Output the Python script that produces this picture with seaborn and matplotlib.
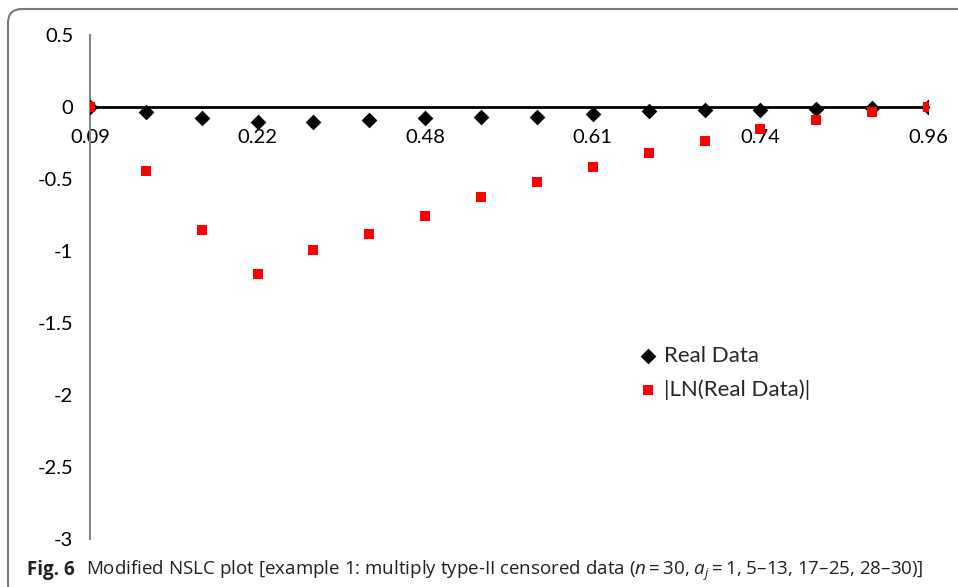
import numpy as np
import pandas as pd
import matplotlib
matplotlib.use("Agg")
import matplotlib.pyplot as plt
from matplotlib.patches import FancyBboxPatch
from matplotlib.transforms import IdentityTransform
import seaborn as sns

# Category labels along the x axis (only every third one is printed)
tick_labels = ["0.09", "", "", "0.22", "", "", "0.48", "", "",
               "0.61", "", "", "0.74", "", "", "0.96"]

# Series values
real_data = [0.0, -0.035, -0.074, -0.101, -0.106, -0.092, -0.074, -0.072,
             -0.069, -0.051, -0.028, -0.023, -0.018, -0.014, -0.004, 0.0]
ln_real_data = [0.0, -0.444, -0.854, -1.162, -0.993, -0.879, -0.754, -0.627,
                -0.518, -0.414, -0.322, -0.233, -0.150, -0.090, -0.035, 0.0]

y_ticks = [0.5, 0, -0.5, -1, -1.5, -2, -2.5, -3]

df = pd.DataFrame({
    "pos": np.arange(len(tick_labels)),
    "real": real_data,
    "ln": ln_real_data,
})

sns.set_style("white")
plt.rcParams["font.family"] = ["Lato", "DejaVu Sans"]
plt.rcParams["mathtext.fontset"] = "custom"
plt.rcParams["mathtext.rm"] = "Open Sans"
plt.rcParams["mathtext.it"] = "Open Sans:italic"

W, H = 958, 587
fig = plt.figure(figsize=(W / 100, H / 100), dpi=100)
ax = fig.add_axes([90 / W, 1 - 539 / H, 838 / W, 504 / H])

sns.scatterplot(data=df, x="pos", y="real", marker="D", color="black",
                s=64, linewidth=0, ax=ax, label="Real Data", zorder=3)
sns.scatterplot(data=df, x="pos", y="ln", marker="s", color="#ff0000",
                s=50, linewidth=0, ax=ax, label="|LN(Real Data)|", zorder=4)

ax.set_xlim(0, len(tick_labels) - 1)
ax.set_ylim(-3, 0.5)
ax.set_xlabel("")
ax.set_ylabel("")

ax.spines["top"].set_visible(False)
ax.spines["right"].set_visible(False)
ax.spines["left"].set_color("#868686")
ax.spines["left"].set_linewidth(1.5)
ax.spines["bottom"].set_position(("data", 0))
ax.spines["bottom"].set_color("black")
ax.spines["bottom"].set_linewidth(2)
ax.spines["bottom"].set_zorder(2)

ax.set_yticks(y_ticks)
ax.set_yticklabels([f"{v:g}" for v in y_ticks])
ax.set_xticks(df["pos"])
ax.set_xticklabels(tick_labels)

ax.tick_params(axis="y", direction="out", length=5, width=1.2,
               color="#868686", labelsize=14.5, pad=7, labelcolor="black")
ax.tick_params(axis="x", direction="out", length=5, width=1.2,
               color="black", labelsize=14.5, pad=11, labelcolor="black")

leg = ax.legend(loc="upper left", bbox_to_anchor=(537 / 838, (539 - 337) / 504),
                frameon=False, fontsize=16, handletextpad=0.15,
                labelspacing=0.62, borderaxespad=0, handlelength=1.1)

# Rounded outer chart frame
frame = FancyBboxPatch((8, -12), 980, H - 9 + 12,
                       boxstyle="round,pad=0,rounding_size=14",
                       transform=IdentityTransform(), fill=False,
                       ec="#7a7a7a", lw=1.5)
fig.add_artist(frame)

# Figure caption
fig.text(27 / W, 1 - 575 / H, "Fig. 6", fontsize=13.5, weight="bold",
         family=["Open Sans", "DejaVu Sans"], va="baseline", color="#231f20")
fig.text(86 / W, 1 - 575 / H,
         r"Modified NSLC plot [example 1: multiply type-II censored data "
         r"($n=30$, $a_j=1$, 5–13, 17–25, 28–30)]",
         fontsize=13.5, family=["Open Sans", "DejaVu Sans"], va="baseline",
         color="#231f20")

fig.savefig("out.png", dpi=100)
